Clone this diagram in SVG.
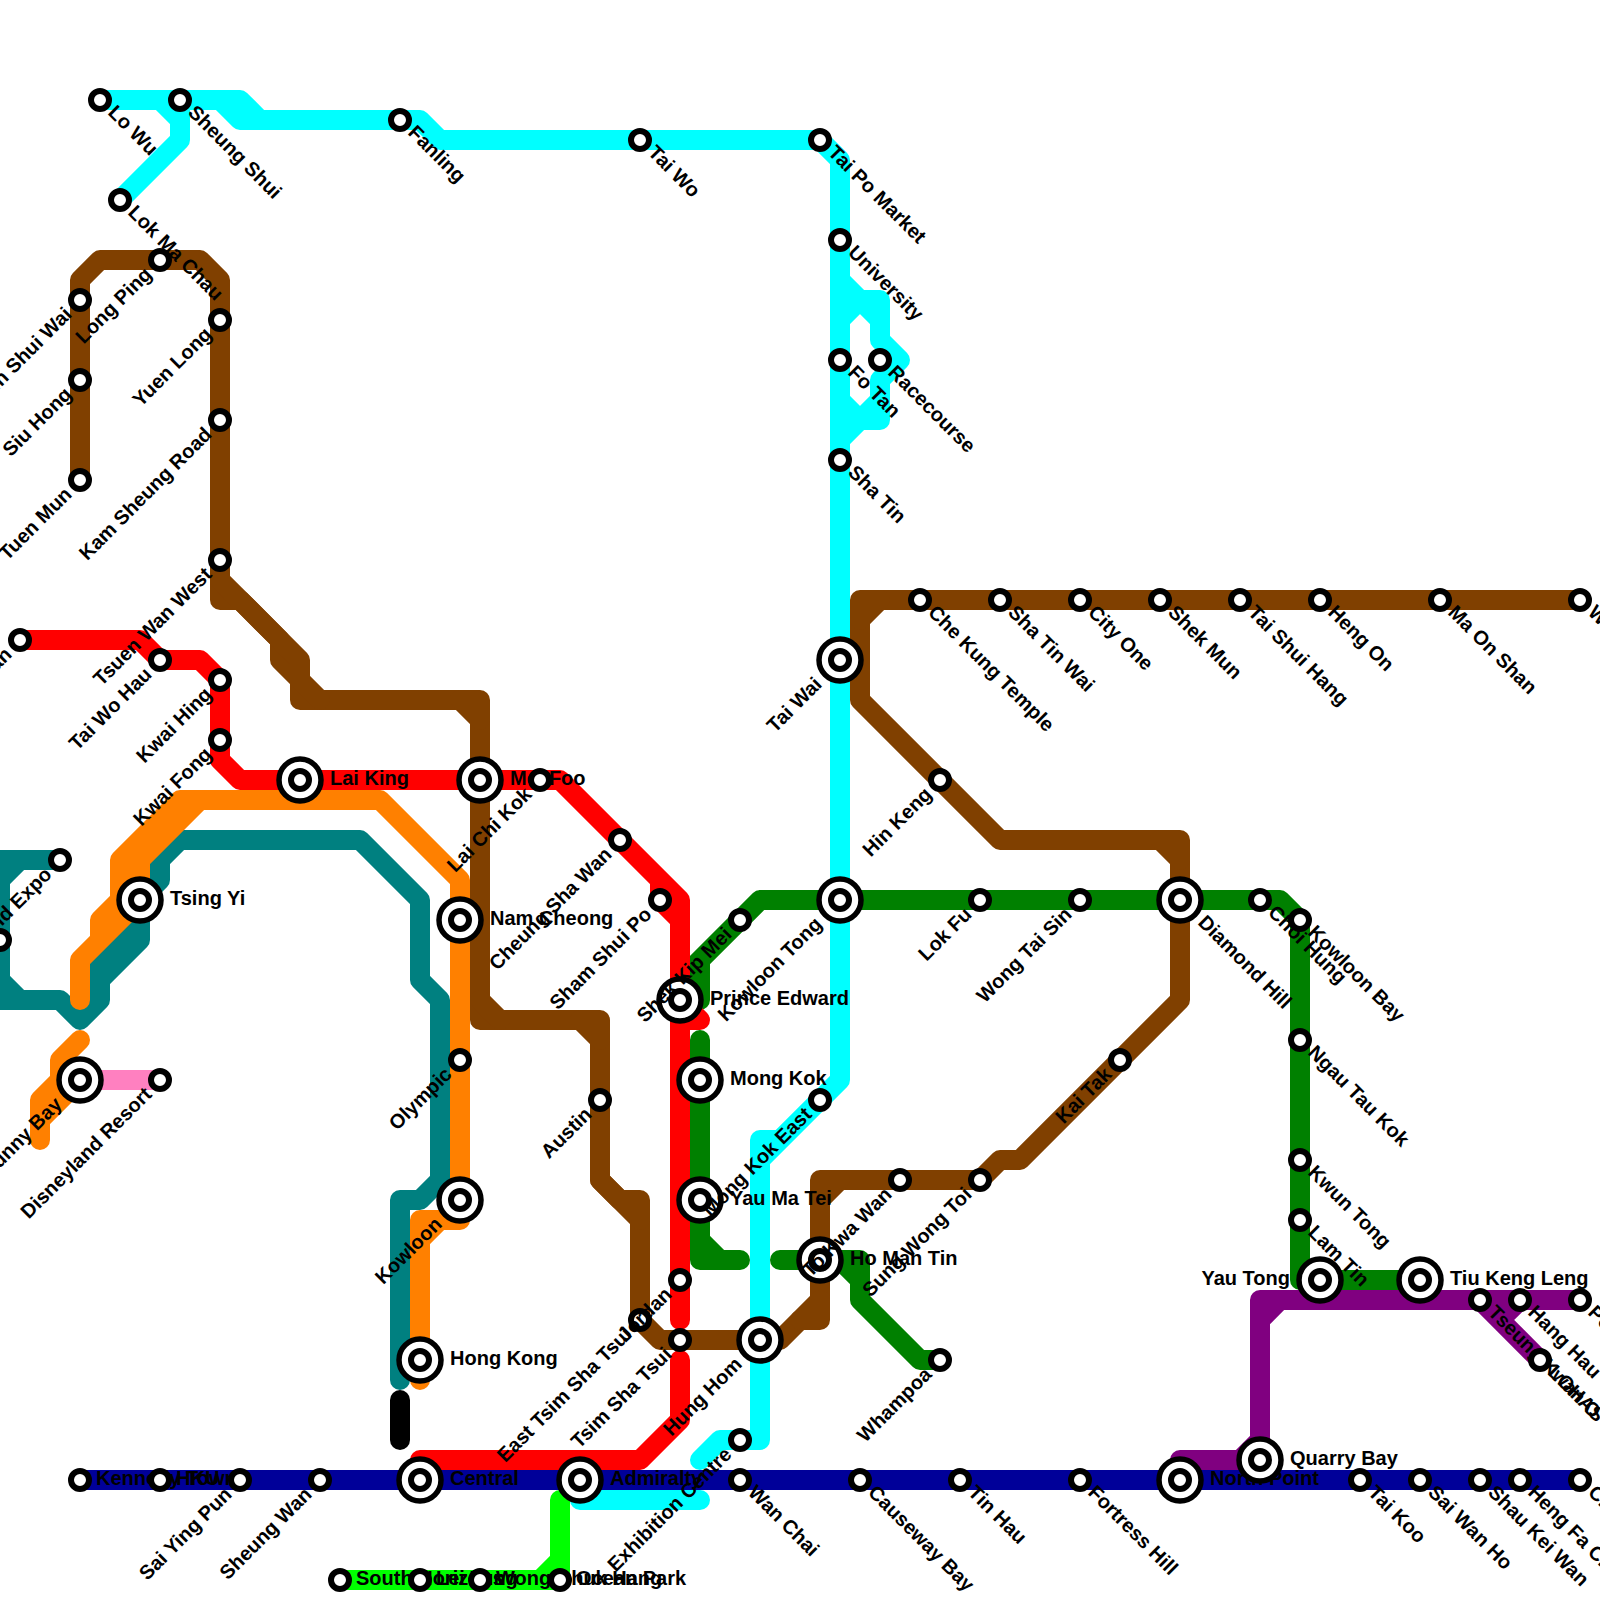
<svg xmlns="http://www.w3.org/2000/svg" width="1600" height="1600" viewBox="0 0 1600 1600">
<style>
.l{fill:none;stroke-width:20;stroke-linecap:round;stroke-linejoin:round}
.teal{stroke:#008080}.orange{stroke:#ff8000}.red{stroke:#ff0000}.cyan{stroke:#00ffff}.brown{stroke:#804000}.green{stroke:#008000}.purple{stroke:#800080}.pink{stroke:#ff80c0}.blue{stroke:#000099}.lime{stroke:#00ff00}.black{stroke:#000000}
.o{fill:#fff;stroke:#000;stroke-width:5.5}
.s{fill:#fff;stroke:#000;stroke-width:6}
text{font-family:"Liberation Sans",Arial,sans-serif;font-size:20px;font-weight:bold;fill:#000}
.e{text-anchor:end}
</style>
<defs>
<g id="sm"><circle class="s" r="9"/></g>
<g id="ic"><circle class="o" r="21"/><circle class="s" r="9"/></g>
</defs>
<g id="connectors">
<path class="l pink" d="M80 1080H160"/>
<path class="l teal" d="M60 860H20L0 880V980L20 1000H60L80 1020L100 1000V980L140 940V900L160 880V860L180 840H360L420 900V980L440 1000V1180L420 1200H400V1380M0 860H20M0 1000H20M180 840L120 900M140 920L100 960V980"/>
<path class="l orange" d="M460 1200V1220H440L420 1240V1380M440 1220H420V1240M460 1220V880L380 800H180L120 860V900L100 920V940L80 960V1000M200 800L140 860V900L80 960"/>
<path class="l orange" d="M80 1040L60 1060V1080L40 1100V1140M80 1080L40 1120"/>
<path class="l black" d="M400 1400V1440"/>
<path class="l brown" d="M80 480V280L100 260H200L220 280V600H240L280 640V660L300 680V700H460L480 720V1020H580L600 1040V1180L640 1220V1320L660 1340H780L820 1300V1200L840 1180H980L1000 1160H1020L1180 1000V860L1160 840H1000L860 700V620L880 600H1580"/>
<path class="l brown" d="M220 580L300 660V680L320 700M460 700H480V720M480 1000L500 1020M580 1020H600V1040M620 1200H640V1220M600 1180L620 1200M800 1320H820V1300M820 1200V1180H840M1160 840H1180V860M860 600H880M860 600V620"/>
<path class="l cyan" d="M100 100H240L260 120H420L440 140H820L840 160V1080L760 1160V1440H720L700 1460M220 100L240 120H260M160 100L180 120V140L120 200M180 100V120M780 1140H760V1160M580 1480V1500H700"/>
<path class="l cyan" d="M840 280L860 300H880V340L900 360L880 380V420H860L840 440M840 320L860 300L880 320M840 400L860 420L880 400"/>
<path class="l green" d="M840 900H760L700 960V1000L680 1000M760 900L680 980M840 900H1280L1300 920V1280H1420M700 1040V1260H740M700 1240L720 1260M780 1260H860V1300L920 1360H940M840 1260L860 1280"/>
<path class="l red" d="M20 640H140L160 660H200L220 680V760L240 780H560L680 900V1320M660 880V900L680 920M680 1000L700 1020H680M420 1480V1460H640L680 1420V1360"/>
<path class="l purple" d="M1180 1480V1460H1240L1260 1440V1320L1280 1300H1580M1260 1300V1320M1260 1300H1280M1240 1460H1260V1440M1480 1300L1540 1360M1520 1300L1500 1320"/>
<path class="l blue" d="M80 1480H1580"/>
<path class="l lime" d="M340 1580H540L560 1560V1500M540 1580H560V1560"/>
</g>
<g id="prince-edward"><use href="#ic" x="680" y="1000"/><text x="710" y="1005">Prince Edward</text></g>
<g id="ho-man-tin"><use href="#ic" x="820" y="1260"/><text x="850" y="1265">Ho Man Tin</text></g>
<g id="east-tsim-sha-tsui"><use href="#sm" x="640" y="1320"/><text class="e" transform="translate(640 1320) rotate(-45)" x="-16" y="6">East Tsim Sha Tsui</text></g>
<g id="lo-wu"><use href="#sm" x="100" y="100"/><text transform="translate(100 100) rotate(45)" x="14.6" y="4.6">Lo Wu</text></g>
<g id="sheung-shui"><use href="#sm" x="180" y="100"/><text transform="translate(180 100) rotate(45)" x="14.6" y="4.6">Sheung Shui</text></g>
<g id="lok-ma-chau"><use href="#sm" x="120" y="200"/><text transform="translate(120 200) rotate(45)" x="14.6" y="4.6">Lok Ma Chau</text></g>
<g id="fanling"><use href="#sm" x="400" y="120"/><text transform="translate(400 120) rotate(45)" x="14.6" y="4.6">Fanling</text></g>
<g id="tai-wo"><use href="#sm" x="640" y="140"/><text transform="translate(640 140) rotate(45)" x="14.6" y="4.6">Tai Wo</text></g>
<g id="tai-po-market"><use href="#sm" x="820" y="140"/><text transform="translate(820 140) rotate(45)" x="14.6" y="4.6">Tai Po Market</text></g>
<g id="university"><use href="#sm" x="840" y="240"/><text transform="translate(840 240) rotate(45)" x="14.6" y="4.6">University</text></g>
<g id="fo-tan"><use href="#sm" x="840" y="360"/><text transform="translate(840 360) rotate(45)" x="14.6" y="4.6">Fo Tan</text></g>
<g id="racecourse"><use href="#sm" x="880" y="360"/><text transform="translate(880 360) rotate(45)" x="14.6" y="4.6">Racecourse</text></g>
<g id="sha-tin"><use href="#sm" x="840" y="460"/><text transform="translate(840 460) rotate(45)" x="14.6" y="4.6">Sha Tin</text></g>
<g id="tai-wai"><use href="#ic" x="840" y="660"/><text class="e" transform="translate(840 660) rotate(-45)" x="-30" y="6">Tai Wai</text></g>
<g id="kowloon-tong"><use href="#ic" x="840" y="900"/><text class="e" transform="translate(840 900) rotate(-45)" x="-30" y="6">Kowloon Tong</text></g>
<g id="tuen-mun"><use href="#sm" x="80" y="480"/><text class="e" transform="translate(80 480) rotate(-45)" x="-16" y="6">Tuen Mun</text></g>
<g id="siu-hong"><use href="#sm" x="80" y="380"/><text class="e" transform="translate(80 380) rotate(-45)" x="-16" y="6">Siu Hong</text></g>
<g id="tin-shui-wai"><use href="#sm" x="80" y="300"/><text class="e" transform="translate(80 300) rotate(-45)" x="-16" y="6">Tin Shui Wai</text></g>
<g id="long-ping"><use href="#sm" x="160" y="260"/><text class="e" transform="translate(160 260) rotate(-45)" x="-16" y="6">Long Ping</text></g>
<g id="yuen-long"><use href="#sm" x="220" y="320"/><text class="e" transform="translate(220 320) rotate(-45)" x="-16" y="6">Yuen Long</text></g>
<g id="kam-sheung-road"><use href="#sm" x="220" y="420"/><text class="e" transform="translate(220 420) rotate(-45)" x="-16" y="6">Kam Sheung Road</text></g>
<g id="tsuen-wan-west"><use href="#sm" x="220" y="560"/><text class="e" transform="translate(220 560) rotate(-45)" x="-16" y="6">Tsuen Wan West</text></g>
<g id="tsuen-wan"><use href="#sm" x="20" y="640"/><text class="e" transform="translate(20 640) rotate(-45)" x="-16" y="6">Tsuen Wan</text></g>
<g id="tai-wo-hau"><use href="#sm" x="160" y="660"/><text class="e" transform="translate(160 660) rotate(-45)" x="-16" y="6">Tai Wo Hau</text></g>
<g id="kwai-hing"><use href="#sm" x="220" y="680"/><text class="e" transform="translate(220 680) rotate(-45)" x="-16" y="6">Kwai Hing</text></g>
<g id="kwai-fong"><use href="#sm" x="220" y="740"/><text class="e" transform="translate(220 740) rotate(-45)" x="-16" y="6">Kwai Fong</text></g>
<g id="lai-king"><use href="#ic" x="300" y="780"/><text x="330" y="785">Lai King</text></g>
<g id="mei-foo"><use href="#ic" x="480" y="780"/><text x="510" y="785">Mei Foo</text></g>
<g id="lai-chi-kok"><use href="#sm" x="540" y="780"/><text class="e" transform="translate(540 780) rotate(-45)" x="-16" y="6">Lai Chi Kok</text></g>
<g id="cheung-sha-wan"><use href="#sm" x="620" y="840"/><text class="e" transform="translate(620 840) rotate(-45)" x="-16" y="6">Cheung Sha Wan</text></g>
<g id="sham-shui-po"><use href="#sm" x="660" y="900"/><text class="e" transform="translate(660 900) rotate(-45)" x="-16" y="6">Sham Shui Po</text></g>
<g id="shek-kip-mei"><use href="#sm" x="740" y="920"/><text class="e" transform="translate(740 920) rotate(-45)" x="-16" y="6">Shek Kip Mei</text></g>
<g id="mong-kok"><use href="#ic" x="700" y="1080"/><text x="730" y="1085">Mong Kok</text></g>
<g id="yau-ma-tei"><use href="#ic" x="700" y="1200"/><text x="730" y="1205">Yau Ma Tei</text></g>
<g id="jordan"><use href="#sm" x="680" y="1280"/><text class="e" transform="translate(680 1280) rotate(-45)" x="-16" y="6">Jordan</text></g>
<g id="tsim-sha-tsui"><use href="#sm" x="680" y="1340"/><text class="e" transform="translate(680 1340) rotate(-45)" x="-16" y="6">Tsim Sha Tsui</text></g>
<g id="austin"><use href="#sm" x="600" y="1100"/><text class="e" transform="translate(600 1100) rotate(-45)" x="-16" y="6">Austin</text></g>
<g id="nam-cheong"><use href="#ic" x="460" y="920"/><text x="490" y="925">Nam Cheong</text></g>
<g id="olympic"><use href="#sm" x="460" y="1060"/><text class="e" transform="translate(460 1060) rotate(-45)" x="-16" y="6">Olympic</text></g>
<g id="kowloon"><use href="#ic" x="460" y="1200"/><text class="e" transform="translate(460 1200) rotate(-45)" x="-30" y="6">Kowloon</text></g>
<g id="tsing-yi"><use href="#ic" x="140" y="900"/><text x="170" y="905">Tsing Yi</text></g>
<g id="sunny-bay"><use href="#ic" x="80" y="1080"/><text class="e" transform="translate(80 1080) rotate(-45)" x="-30" y="6">Sunny Bay</text></g>
<g id="disneyland-resort"><use href="#sm" x="160" y="1080"/><text class="e" transform="translate(160 1080) rotate(-45)" x="-16" y="6">Disneyland Resort</text></g>
<g id="asiaworld-expo"><use href="#sm" x="60" y="860"/><text class="e" transform="translate(60 860) rotate(-45)" x="-16" y="6">AsiaWorld Expo</text></g>
<g id="airport"><use href="#sm" x="0" y="940"/><text class="e" transform="translate(0 940) rotate(-45)" x="-16" y="6">Airport</text></g>
<g id="hong-kong"><use href="#ic" x="420" y="1360"/><text x="450" y="1365">Hong Kong</text></g>
<g id="central"><use href="#ic" x="420" y="1480"/><text x="450" y="1485">Central</text></g>
<g id="admiralty"><use href="#ic" x="580" y="1480"/><text x="610" y="1485">Admiralty</text></g>
<g id="kennedy-town"><use href="#sm" x="80" y="1480"/><text x="96" y="1485">Kennedy Town</text></g>
<g id="hku"><use href="#sm" x="160" y="1480"/><text x="176" y="1485">HKU</text></g>
<g id="sai-ying-pun"><use href="#sm" x="240" y="1480"/><text class="e" transform="translate(240 1480) rotate(-45)" x="-16" y="6">Sai Ying Pun</text></g>
<g id="sheung-wan"><use href="#sm" x="320" y="1480"/><text class="e" transform="translate(320 1480) rotate(-45)" x="-16" y="6">Sheung Wan</text></g>
<g id="south-horizons"><use href="#sm" x="340" y="1580"/><text x="356" y="1585">South Horizons</text></g>
<g id="lei-tung"><use href="#sm" x="420" y="1580"/><text x="436" y="1585">Lei Tung</text></g>
<g id="wong-chuk-hang"><use href="#sm" x="480" y="1580"/><text x="496" y="1585">Wong Chuk Hang</text></g>
<g id="ocean-park"><use href="#sm" x="560" y="1580"/><text x="576" y="1585">Ocean Park</text></g>
<g id="exhibition-centre"><use href="#sm" x="740" y="1440"/><text class="e" transform="translate(740 1440) rotate(-45)" x="-16" y="6">Exhibition Centre</text></g>
<g id="wan-chai"><use href="#sm" x="740" y="1480"/><text transform="translate(740 1480) rotate(45)" x="14.6" y="4.6">Wan Chai</text></g>
<g id="causeway-bay"><use href="#sm" x="860" y="1480"/><text transform="translate(860 1480) rotate(45)" x="14.6" y="4.6">Causeway Bay</text></g>
<g id="tin-hau"><use href="#sm" x="960" y="1480"/><text transform="translate(960 1480) rotate(45)" x="14.6" y="4.6">Tin Hau</text></g>
<g id="fortress-hill"><use href="#sm" x="1080" y="1480"/><text transform="translate(1080 1480) rotate(45)" x="14.6" y="4.6">Fortress Hill</text></g>
<g id="north-point"><use href="#ic" x="1180" y="1480"/><text x="1210" y="1485">North Point</text></g>
<g id="quarry-bay"><use href="#ic" x="1260" y="1460"/><text x="1290" y="1465">Quarry Bay</text></g>
<g id="tai-koo"><use href="#sm" x="1360" y="1480"/><text transform="translate(1360 1480) rotate(45)" x="14.6" y="4.6">Tai Koo</text></g>
<g id="sai-wan-ho"><use href="#sm" x="1420" y="1480"/><text transform="translate(1420 1480) rotate(45)" x="14.6" y="4.6">Sai Wan Ho</text></g>
<g id="shau-kei-wan"><use href="#sm" x="1480" y="1480"/><text transform="translate(1480 1480) rotate(45)" x="14.6" y="4.6">Shau Kei Wan</text></g>
<g id="heng-fa-chuen"><use href="#sm" x="1520" y="1480"/><text transform="translate(1520 1480) rotate(45)" x="14.6" y="4.6">Heng Fa Chuen</text></g>
<g id="chai-wan"><use href="#sm" x="1580" y="1480"/><text transform="translate(1580 1480) rotate(45)" x="14.6" y="4.6">Chai Wan</text></g>
<g id="yau-tong"><use href="#ic" x="1320" y="1280"/><text class="e" x="1290" y="1285">Yau Tong</text></g>
<g id="tiu-keng-leng"><use href="#ic" x="1420" y="1280"/><text x="1450" y="1285">Tiu Keng Leng</text></g>
<g id="tseung-kwan-o"><use href="#sm" x="1480" y="1300"/><text transform="translate(1480 1300) rotate(45)" x="14.6" y="4.6">Tseung Kwan O</text></g>
<g id="hang-hau"><use href="#sm" x="1520" y="1300"/><text transform="translate(1520 1300) rotate(45)" x="14.6" y="4.6">Hang Hau</text></g>
<g id="po-lam"><use href="#sm" x="1580" y="1300"/><text transform="translate(1580 1300) rotate(45)" x="14.6" y="4.6">Po Lam</text></g>
<g id="lohas-park"><use href="#sm" x="1540" y="1360"/><text transform="translate(1540 1360) rotate(45)" x="14.6" y="4.6">LOHAS Park</text></g>
<g id="che-kung-temple"><use href="#sm" x="920" y="600"/><text transform="translate(920 600) rotate(45)" x="14.6" y="4.6">Che Kung Temple</text></g>
<g id="sha-tin-wai"><use href="#sm" x="1000" y="600"/><text transform="translate(1000 600) rotate(45)" x="14.6" y="4.6">Sha Tin Wai</text></g>
<g id="city-one"><use href="#sm" x="1080" y="600"/><text transform="translate(1080 600) rotate(45)" x="14.6" y="4.6">City One</text></g>
<g id="shek-mun"><use href="#sm" x="1160" y="600"/><text transform="translate(1160 600) rotate(45)" x="14.6" y="4.6">Shek Mun</text></g>
<g id="tai-shui-hang"><use href="#sm" x="1240" y="600"/><text transform="translate(1240 600) rotate(45)" x="14.6" y="4.6">Tai Shui Hang</text></g>
<g id="heng-on"><use href="#sm" x="1320" y="600"/><text transform="translate(1320 600) rotate(45)" x="14.6" y="4.6">Heng On</text></g>
<g id="ma-on-shan"><use href="#sm" x="1440" y="600"/><text transform="translate(1440 600) rotate(45)" x="14.6" y="4.6">Ma On Shan</text></g>
<g id="wu-kai-sha"><use href="#sm" x="1580" y="600"/><text transform="translate(1580 600) rotate(45)" x="14.6" y="4.6">Wu Kai Sha</text></g>
<g id="hin-keng"><use href="#sm" x="940" y="780"/><text class="e" transform="translate(940 780) rotate(-45)" x="-16" y="6">Hin Keng</text></g>
<g id="diamond-hill"><use href="#ic" x="1180" y="900"/><text transform="translate(1180 900) rotate(45)" x="28.6" y="4.6">Diamond Hill</text></g>
<g id="lok-fu"><use href="#sm" x="980" y="900"/><text class="e" transform="translate(980 900) rotate(-45)" x="-16" y="6">Lok Fu</text></g>
<g id="wong-tai-sin"><use href="#sm" x="1080" y="900"/><text class="e" transform="translate(1080 900) rotate(-45)" x="-16" y="6">Wong Tai Sin</text></g>
<g id="choi-hung"><use href="#sm" x="1260" y="900"/><text transform="translate(1260 900) rotate(45)" x="14.6" y="4.6">Choi Hung</text></g>
<g id="kowloon-bay"><use href="#sm" x="1300" y="920"/><text transform="translate(1300 920) rotate(45)" x="14.6" y="4.6">Kowloon Bay</text></g>
<g id="ngau-tau-kok"><use href="#sm" x="1300" y="1040"/><text transform="translate(1300 1040) rotate(45)" x="14.6" y="4.6">Ngau Tau Kok</text></g>
<g id="kwun-tong"><use href="#sm" x="1300" y="1160"/><text transform="translate(1300 1160) rotate(45)" x="14.6" y="4.6">Kwun Tong</text></g>
<g id="lam-tin"><use href="#sm" x="1300" y="1220"/><text transform="translate(1300 1220) rotate(45)" x="14.6" y="4.6">Lam Tin</text></g>
<g id="kai-tak"><use href="#sm" x="1120" y="1060"/><text class="e" transform="translate(1120 1060) rotate(-45)" x="-16" y="6">Kai Tak</text></g>
<g id="sung-wong-toi"><use href="#sm" x="980" y="1180"/><text class="e" transform="translate(980 1180) rotate(-45)" x="-16" y="6">Sung Wong Toi</text></g>
<g id="to-kwa-wan"><use href="#sm" x="900" y="1180"/><text class="e" transform="translate(900 1180) rotate(-45)" x="-16" y="6">To Kwa Wan</text></g>
<g id="mong-kok-east"><use href="#sm" x="820" y="1100"/><text class="e" transform="translate(820 1100) rotate(-45)" x="-16" y="6">Mong Kok East</text></g>
<g id="whampoa"><use href="#sm" x="940" y="1360"/><text class="e" transform="translate(940 1360) rotate(-45)" x="-16" y="6">Whampoa</text></g>
<g id="hung-hom"><use href="#ic" x="760" y="1340"/><text class="e" transform="translate(760 1340) rotate(-45)" x="-30" y="6">Hung Hom</text></g>
</svg>
